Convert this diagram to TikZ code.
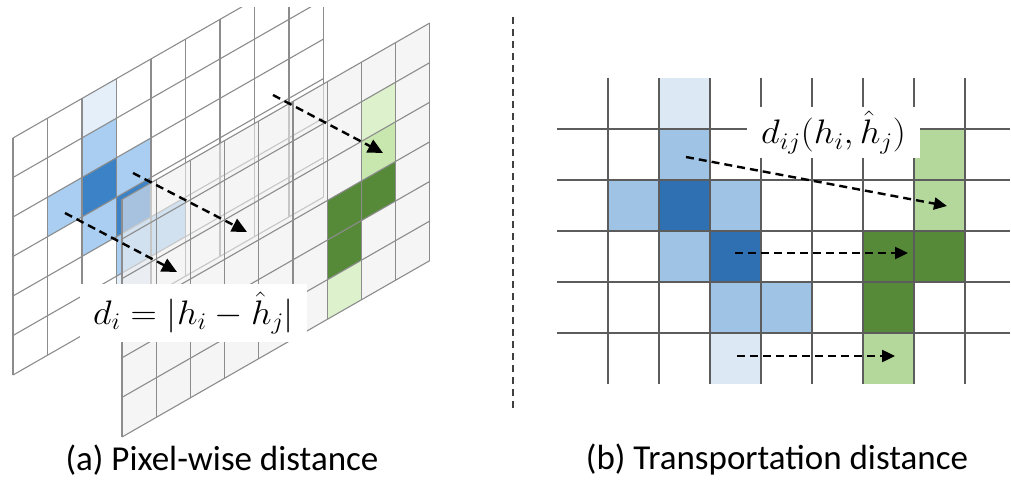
\RequirePackage{fix-cm}
\documentclass[tikz,border=0pt]{standalone}
\usepackage{fontspec}
\usepackage{graphicx}
\setsansfont{Carlito}
\usetikzlibrary{arrows.meta}
\definecolor{gridA}{HTML}{8C8C8C}
\definecolor{gridR}{HTML}{5C5C5C}
\definecolor{apale}{HTML}{E4EFFA}
\definecolor{amed}{HTML}{A9CEF1}
\definecolor{adark}{HTML}{3C82C6}
\definecolor{bpale}{HTML}{DCE9F5}
\definecolor{bmed}{HTML}{9FC3E5}
\definecolor{bdark}{HTML}{2E70B2}
\definecolor{gdark}{HTML}{568A38}
\definecolor{glight}{HTML}{B4D89C}
\definecolor{gleft}{HTML}{C8E7AE}
\definecolor{gpale}{HTML}{DDF1CC}
\definecolor{planeB}{HTML}{EEEEEE}
\definecolor{sepc}{HTML}{404040}
\newcommand\rcell[3]{\fill[#3] ({608+51*#1},{78+51*#2}) rectangle ({659+51*#1},{129+51*#2});}
\begin{document}
\begin{tikzpicture}[x=1pt,y=-1pt,
  linesA/.style={gridA, line width=1.1pt},
  linesR/.style={gridR, line width=1.6pt},
  dasharrow/.style={black, line width=2.4pt, dash pattern=on 8pt off 5pt,
    -{Triangle[length=13pt,width=12pt]}},
  bigarrow/.style={dasharrow, -{Triangle[length=15pt,width=14pt]}},
  eqlabel/.style={fill=white, inner sep=0pt, font=\fontsize{34}{40}\selectfont},
  caption/.style={inner sep=0pt, font=\sffamily\fontsize{35}{42}\selectfont},
  seprule/.style={sepc, line width=2pt, dash pattern=on 7pt off 5pt}]
\useasboundingbox (0,0) rectangle (1011,484);

% ---------- left panel: back plane A ----------
\begin{scope}
\clip (0,8) rectangle (512,484);
\begin{scope}[x=1pt,y=1pt,cm={34.5,19.77,0,39.5,(13pt,-375pt)}]
  \fill[amed] (1,3) rectangle (2,4);
  \fill[apale] (2,5) rectangle (3,6);
  \fill[amed] (2,4) rectangle (3,5);
  \fill[adark] (2,3) rectangle (3,4);
  \fill[amed] (2,2) rectangle (3,3);
  \fill[amed] (3,3) rectangle (4,4);
  \fill[adark] (3,2) rectangle (4,3);
  \fill[amed] (3,1) rectangle (4,2);
  \fill[apale] (3,0) rectangle (4,1);
  \fill[amed] (4,1) rectangle (5,2);
  \foreach \k in {0,...,9} \draw[linesA] (\k,0) -- (\k,6);
  \foreach \r in {0,...,6} \draw[linesA] (0,\r) -- (9,\r);
\end{scope}
\end{scope}

% ---------- left panel: front plane B ----------
\begin{scope}[x=1pt,y=1pt,cm={34.2,19.6,0,39.6,(122pt,-437pt)}]
  \fill[planeB, fill opacity=0.6] (0,0) rectangle (9,6);
  \fill[gdark] (6,2) rectangle (7,3);
  \fill[gdark] (6,1) rectangle (7,2);
  \fill[gpale] (6,0) rectangle (7,1);
  \fill[gpale] (7,4) rectangle (8,5);
  \fill[gleft] (7,3) rectangle (8,4);
  \fill[gdark] (7,2) rectangle (8,3);
  \foreach \k in {0,...,9} \draw[linesA] (\k,0) -- (\k,6);
  \foreach \r in {0,...,6} \draw[linesA] (0,\r) -- (9,\r);
\end{scope}

\node[eqlabel, minimum width=227pt, minimum height=58pt] (eqA) at (193.5,313)
  {\scalebox{1.07}[1]{$d_i = |h_i - \hat{h}_j|$}};

\coordinate (a1s) at (273,95);  \coordinate (a1e) at (383,153);
\coordinate (a2s) at (133,173); \coordinate (a2e) at (247,232);
\coordinate (a3s) at (65,213);  \coordinate (a3e) at (177,272);
\draw[bigarrow] (a1s) -- (a1e);
\draw[bigarrow] (a2s) -- (a2e);
\draw[bigarrow] (a3s) -- (a3e);

% ---------- separator ----------
\coordinate (s1) at (513,17);
\coordinate (s2) at (513,408);
\draw[seprule] (s1) -- (s2);

% ---------- right panel ----------
\rcell{1}{0}{bpale}
\rcell{1}{1}{bmed}
\rcell{1}{2}{bdark}
\rcell{1}{3}{bmed}
\rcell{0}{2}{bmed}
\rcell{2}{2}{bmed}
\rcell{2}{3}{bdark}
\rcell{2}{4}{bmed}
\rcell{2}{5}{bpale}
\rcell{3}{4}{bmed}
\rcell{5}{3}{gdark}
\rcell{5}{4}{gdark}
\rcell{5}{5}{glight}
\rcell{6}{1}{glight}
\rcell{6}{2}{glight}
\rcell{6}{3}{gdark}
\foreach \i in {0,...,7} \draw[linesR] ({608+51*\i},78) -- ({608+51*\i},384);
\foreach \r in {0,...,4} \draw[linesR] (557,{129+51*\r}) -- (1010,{129+51*\r});

\node[eqlabel, minimum width=173pt, minimum height=51pt] (eqB) at (833.5,132.5)
  {\scalebox{1.08}[1]{$d_{ij}(h_i,\hat{h}_j)$}};

\coordinate (b1s) at (686,157); \coordinate (b1e) at (947,206);
\coordinate (b2s) at (735,253); \coordinate (b2e) at (908,253);
\coordinate (b3s) at (737,356); \coordinate (b3e) at (895,356);
\draw[dasharrow] (b1s) -- (b1e);
\draw[dasharrow] (b2s) -- (b2e);
\draw[dasharrow] (b3s) -- (b3e);

% ---------- captions ----------
\node[caption] (capA) at (222,460) {(a) Pixel-wise distance};
\node[caption] (capB) at (777,460) {(b) Transportation distance};
\end{tikzpicture}
\end{document}
